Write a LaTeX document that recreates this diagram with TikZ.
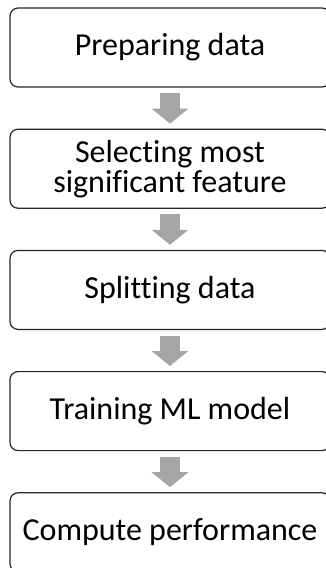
\documentclass[tikz,border=0pt]{standalone}
\usepackage{fontspec}
\setmainfont[Ligatures=NoCommon]{Carlito}
\usetikzlibrary{positioning,arrows.meta}

\begin{document}
\begin{tikzpicture}[x=1pt, y=1pt,
        stepbox/.style={draw=black!85, line width=1.2pt, rounded corners=8pt,
            minimum width=320pt, minimum height=79pt, inner sep=0pt, align=center,
            font=\fontsize{32}{30}\selectfont},
        flow/.style={draw={rgb,255:red,165;green,165;blue,165}, line width=20pt,
            -{Triangle[width=36pt, length=15pt]}, shorten <=5.5pt, shorten >=5pt},
        node distance=41pt]

        \clip (0,0) rectangle (326,-568);

        \node[stepbox] (prep) at (170,-47.5) {Preparing data};
        \node[stepbox, below=of prep] (select) {Selecting most\\significant feature};
        \node[stepbox, below=of select] (split) {Splitting data};
        \node[stepbox, below=of split] (train) {Training ML model};
        \node[stepbox, below=of train] (perf) {Compute performance};

        % grey block arrows between the steps
        \foreach \a/\b in {prep/select, select/split, split/train, train/perf}
            \draw[flow] (\a) -- (\b);

    \end{tikzpicture}
\end{document}
